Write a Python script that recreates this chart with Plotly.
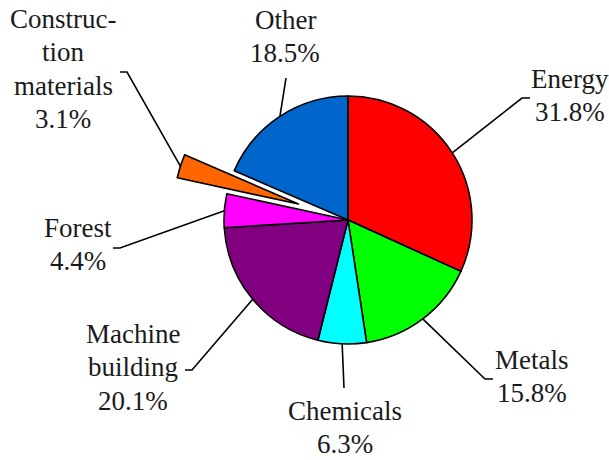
import math
import plotly.graph_objects as go

# Sector shares, clockwise from 12 o'clock
sectors = ["Energy", "Metals", "Chemicals", "Machine building", "Forest",
           "Construction materials", "Other"]
shares = [31.8, 15.8, 6.3, 20.1, 4.4, 3.1, 18.5]
label_lines = [["Energy"], ["Metals"], ["Chemicals"], ["Machine", "building"],
               ["Forest"], ["Construc-", "tion", "materials"], ["Other"]]
colors = ["#FF0000", "#00FF00", "#00FFFF", "#800080", "#FF00FF", "#FF6600", "#0066CC"]
pulls = [0, 0, 0, 0, 0, 0.42, 0]

W, H = 609, 460
CX, CY, R = 348, 220, 124          # pie centre / radius in pixels
FONT = "Liberation Serif"
FS = 27
LINE_GAP = 33.5

# label layout: (leader bend point, leader end point, text centre x, first baseline y)
label_layout = [
    ((522, 98), (530, 98), 570, 88),
    ((485, 379), (493, 379), 532, 369),
    (None, (344, 388), 345, 420),
    ((192, 370), (185, 370), 133, 343),
    ((120, 248), (113, 248), 78, 237),
    ((127, 72), (120, 72), 63, 28),
    (None, (286, 78), 285, 29),
]

maxpull = max(pulls)
half = R * (1 + maxpull)
dom_x = [(CX - half) / W, (CX + half) / W]
dom_y = [(H - CY - half) / H, (H - CY + half) / H]


def px(x, y):
    return x / W, 1 - y / H


fig = go.Figure(go.Pie(
    labels=sectors, values=shares, sort=False, direction="clockwise",
    rotation=0, pull=pulls, textinfo="none", hoverinfo="label+percent",
    marker=dict(colors=colors, line=dict(color="black", width=1.6)),
    domain=dict(x=dom_x, y=dom_y), showlegend=False,
))

shapes, annotations = [], []
total = sum(shares)
cum = 0.0
for name_lines, v, p, lay in zip(label_lines, shares, pulls, label_layout):
    mid = (cum + v / 2) / total * 2 * math.pi
    cum += v
    r = R * (1 + p)
    sx, sy = CX + r * math.sin(mid), CY - r * math.cos(mid)
    bend, end, tx, ty = lay
    pts = [(sx, sy)] + ([bend] if bend else []) + [end]
    path = "M " + " L ".join("%.5f,%.5f" % px(*pt) for pt in pts)
    shapes.append(dict(type="path", xref="paper", yref="paper", path=path,
                       line=dict(color="black", width=1.6)))
    lines = name_lines + ["%.1f%%" % v]
    for i, t in enumerate(lines):
        base = ty + i * LINE_GAP
        x, y = px(tx, base - 0.34 * FS)
        annotations.append(dict(text=t, x=x, y=y, xref="paper", yref="paper",
                                xanchor="center", yanchor="middle", showarrow=False,
                                font=dict(family=FONT, size=FS, color="#1a1a1a")))

fig.update_layout(
    width=W, height=H, margin=dict(l=0, r=0, t=0, b=0),
    paper_bgcolor="white", plot_bgcolor="white",
    shapes=shapes, annotations=annotations,
)
fig.write_html("out.html")
